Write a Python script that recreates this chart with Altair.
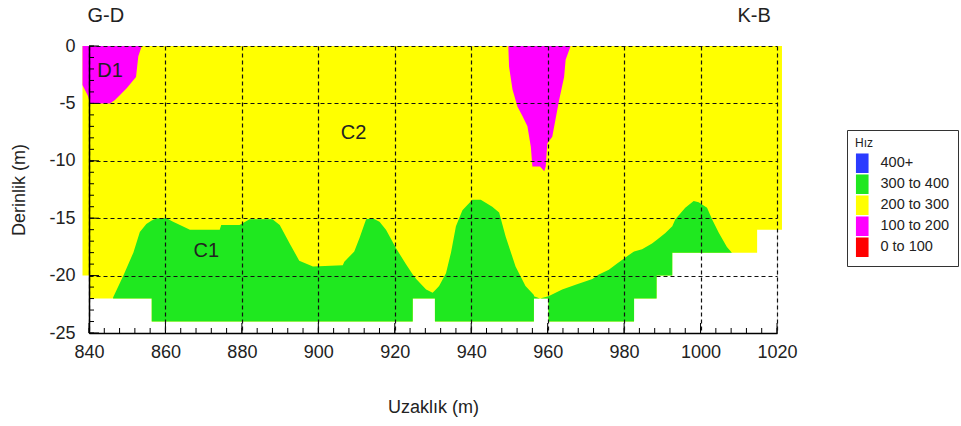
import altair as alt
import pandas as pd

FONT = "Liberation Sans"
W, H = 688, 287

LEGEND_LABELS = ["400+", "300 to 400", "200 to 300", "100 to 200", "0 to 100"]
LEGEND_COLORS = ["#2b3bff", "#1fe81f", "#ffff00", "#ff00ff", "#ff0000"]

# extent of the section (filled 200 to 300), stepped bottom
EXT_X = [838.3, 840.0, 856.4, 924.7, 930.5, 956.4, 960.2, 982.6, 988.5, 992.6, 1014.8, 1021.3]
EXT_BOTTOM = [-20, -22, -24, -22, -24, -22, -24, -22, -20, -18, -16, -16]

# 300 to 400 layer
GREEN_X = [846.3, 849.0, 851.6, 853.3, 855.0, 856.4, 856.41, 857.7, 860.3, 862.0,
           863.8, 866.4, 874.2, 874.6, 879.4, 882.0, 888.0, 889.9, 892.5, 895.0,
           898.6, 906.4, 906.8, 909.4, 910.8, 912.5, 914.2, 916.0, 917.7, 920.3,
           922.9, 924.7, 924.71, 925.6, 928.2, 929.9, 930.5, 930.51, 931.6, 933.4,
           934.7, 936.0, 937.7, 940.3, 942.5, 945.5, 947.3, 949.0, 951.6, 954.2,
           956.4, 956.41, 958.0, 960.2, 960.21, 963.8, 967.3, 971.7, 973.4, 976.0,
           978.0, 982.1, 982.6, 982.61, 984.7, 987.3, 988.5, 988.51, 990.8, 992.6,
           992.61, 993.4, 996.0, 998.2, 999.5, 1001.7, 1003.0, 1004.8, 1006.9, 1008.2]
GREEN_TOP = [-21.9, -20.0, -18.0, -16.2, -15.5, -15.2, -15.2, -15.0, -15.0, -15.3,
             -15.6, -16.0, -16.0, -15.6, -15.6, -15.1, -15.1, -15.6, -17.2, -18.7,
             -19.2, -19.1, -18.8, -17.9, -16.7, -15.1, -15.0, -15.3, -16.0, -17.6,
             -19.0, -19.9, -19.9, -20.3, -21.2, -21.5, -21.3, -21.3, -20.9, -19.8,
             -18.0, -15.7, -14.3, -13.4, -13.4, -14.0, -14.5, -16.6, -19.2, -20.9,
             -21.7, -21.8, -22.0, -21.8, -21.8, -21.2, -20.8, -20.3, -19.9, -19.5,
             -19.0, -18.0, -17.9, -17.9, -17.7, -17.2, -16.9, -16.9, -16.3, -15.7,
             -15.7, -15.1, -14.1, -13.5, -13.6, -14.1, -15.1, -16.3, -17.5, -18.0]
GREEN_BOTTOM = [-22, -22, -22, -22, -22, -22, -24, -24, -24, -24,
                -24, -24, -24, -24, -24, -24, -24, -24, -24, -24,
                -24, -24, -24, -24, -24, -24, -24, -24, -24, -24,
                -24, -24, -22, -22, -22, -22, -22, -24, -24, -24,
                -24, -24, -24, -24, -24, -24, -24, -24, -24, -24,
                -24, -22, -22, -22, -24, -24, -24, -24, -24, -24,
                -24, -24, -24, -22, -22, -22, -22, -20, -20, -20,
                -18, -18, -18, -18, -18, -18, -18, -18, -18, -18]

# 100 to 200 bodies
D1_X = [838.3, 839.8, 840.3, 845.5, 846.8, 849.8, 852.3, 852.9, 853.8]
D1_BOTTOM = [-3.4, -4.4, -5.0, -5.0, -4.7, -3.7, -2.7, -0.9, 0.0]
W_X = [949.7, 949.9, 950.8, 952.1, 953.4, 954.7, 955.6, 956.0, 958.0, 959.1,
       959.5, 959.9, 961.2, 962.5, 963.0, 964.3, 964.7, 966.0]
W_BOTTOM = [0.0, -1.8, -3.8, -5.3, -6.1, -7.0, -8.8, -10.5, -10.5, -10.9,
            -10.5, -8.5, -7.9, -5.6, -4.7, -2.7, -1.2, 0.0]

TEXT = ["D1", "C2", "C1", "G-D", "K-B"]
TEXT_X = [845.5, 909.2, 870.7, 844.4, 1014.0]
TEXT_Y = [-2.2, -7.6, -17.9, 2.65, 2.65]

MAJOR_X = list(range(840, 1021, 20))
MINOR_X = list(range(840, 1021, 4))
MAJOR_Y = [0, -5, -10, -15, -20, -25]
MINOR_Y = list(range(-25, 1, 1))

ext_df = pd.DataFrame({"x": EXT_X, "bottom": EXT_BOTTOM, "cls": "200 to 300"})
ext_df["top"] = 0
green_df = pd.DataFrame({"x": GREEN_X, "top": GREEN_TOP, "bottom": GREEN_BOTTOM,
                         "cls": "300 to 400"})
mag_df = pd.concat([
    pd.DataFrame({"x": D1_X, "bottom": D1_BOTTOM, "grp": "D1"}),
    pd.DataFrame({"x": W_X, "bottom": W_BOTTOM, "grp": "W"}),
], ignore_index=True)
mag_df["top"] = 0
mag_df["cls"] = "100 to 200"
text_df = pd.DataFrame({"t": TEXT, "x": TEXT_X, "y": TEXT_Y})
xmin_df = pd.DataFrame({"v": MINOR_X})
xmaj_df = pd.DataFrame({"v": MAJOR_X})
ymin_df = pd.DataFrame({"v": MINOR_Y})
ymaj_df = pd.DataFrame({"v": MAJOR_Y})

xs = alt.Scale(domain=[840, 1020], nice=False, zero=False)
ys = alt.Scale(domain=[-25, 0], nice=False, zero=False)

legend = alt.Legend(
    title="Hız", orient="none", legendX=758, legendY=84, direction="vertical",
    symbolType="M-1,-1.55H1V1.55H-1Z", symbolSize=159, symbolStrokeWidth=0,
    symbolOpacity=1, labelFont=FONT, labelFontSize=14.5, labelColor="#222",
    labelOffset=11, titleFont=FONT, titleFontSize=12, titleFontWeight="normal",
    titleColor="#222", titlePadding=6, padding=8, strokeColor="#333",
    fillColor="white", rowPadding=0,
)
color = alt.Color("cls:N", scale=alt.Scale(domain=LEGEND_LABELS, range=LEGEND_COLORS),
                  legend=legend)

grid_kw = dict(grid=True, gridColor="#111", gridDash=[4, 3], gridWidth=1.2, gridOpacity=1)

x_main = alt.Axis(orient="bottom", values=MAJOR_X, ticks=False, tickSize=0,
                  domain=True, domainColor="#000", domainWidth=1.5,
                  labelFont=FONT, labelFontSize=18, labelColor="#222", labelPadding=10,
                  labelFlush=False, labelOverlap=False, labelExpr="'' + datum.value",
                  title="Uzaklık (m)", titleFont=FONT, titleFontSize=18,
                  titleFontWeight="normal", titleColor="#222", titleY=74,
                  titleBaseline="middle", zindex=1, **grid_kw)
y_main = alt.Axis(orient="left", values=MAJOR_Y, ticks=False, tickSize=0,
                  domain=True, domainColor="#000", domainWidth=1.5,
                  labelFont=FONT, labelFontSize=18, labelColor="#222", labelPadding=14,
                  labelFlush=False, labelOverlap=False, labelExpr="'' + datum.value",
                  title="Derinlik (m)", titleFont=FONT, titleFontSize=18,
                  titleFontWeight="normal", titleColor="#222", titleX=-70, titleY=H / 2,
                  titleAngle=270, titleAlign="center", titleBaseline="middle",
                  zindex=1, **grid_kw)

yellow = alt.Chart(ext_df).mark_area(interpolate="step-after", opacity=1).encode(
    x=alt.X("x:Q", scale=xs, axis=x_main),
    y=alt.Y("top:Q", scale=ys, stack=False, axis=y_main),
    y2="bottom:Q",
    color=color,
)

green = alt.Chart(green_df).mark_area(opacity=1).encode(
    x=alt.X("x:Q", scale=xs, axis=None),
    y=alt.Y("top:Q", scale=ys, stack=False, axis=None),
    y2="bottom:Q",
    color=color,
)

magenta = alt.Chart(mag_df).mark_area(opacity=1).encode(
    x=alt.X("x:Q", scale=xs, axis=None),
    y=alt.Y("top:Q", scale=ys, stack=False, axis=None),
    y2="bottom:Q",
    detail="grp:N",
    color=color,
)

texts = alt.Chart(text_df).mark_text(font=FONT, fontSize=20, color="#222",
                                     align="center", baseline="middle").encode(
    x=alt.X("x:Q", scale=xs, axis=None),
    y=alt.Y("y:Q", scale=ys, axis=None),
    text="t:N",
)


def xticks(df, size):
    return alt.Chart(df).mark_rule(color="#000", strokeWidth=1).encode(
        x=alt.X("v:Q", scale=xs, axis=None),
        y=alt.value(H),
        y2=alt.value(H - size),
    )


def yticks(df, size):
    return alt.Chart(df).mark_rule(color="#000", strokeWidth=1).encode(
        y=alt.Y("v:Q", scale=ys, axis=None),
        x=alt.value(0),
        x2=alt.value(size),
    )


chart = alt.layer(
    yellow, green, magenta, texts,
    xticks(xmin_df, 5), xticks(xmaj_df, 10), yticks(ymin_df, 5), yticks(ymaj_df, 10),
).resolve_axis(
    x="independent", y="independent"
).properties(
    width=W, height=H,
    autosize=alt.AutoSizeParams(type="none"),
    padding={"left": 89, "top": 46, "right": 184, "bottom": 93},
).configure_view(stroke=None).configure(background="white")

chart.save("out.html", embed_options={"renderer": "svg", "actions": False})
